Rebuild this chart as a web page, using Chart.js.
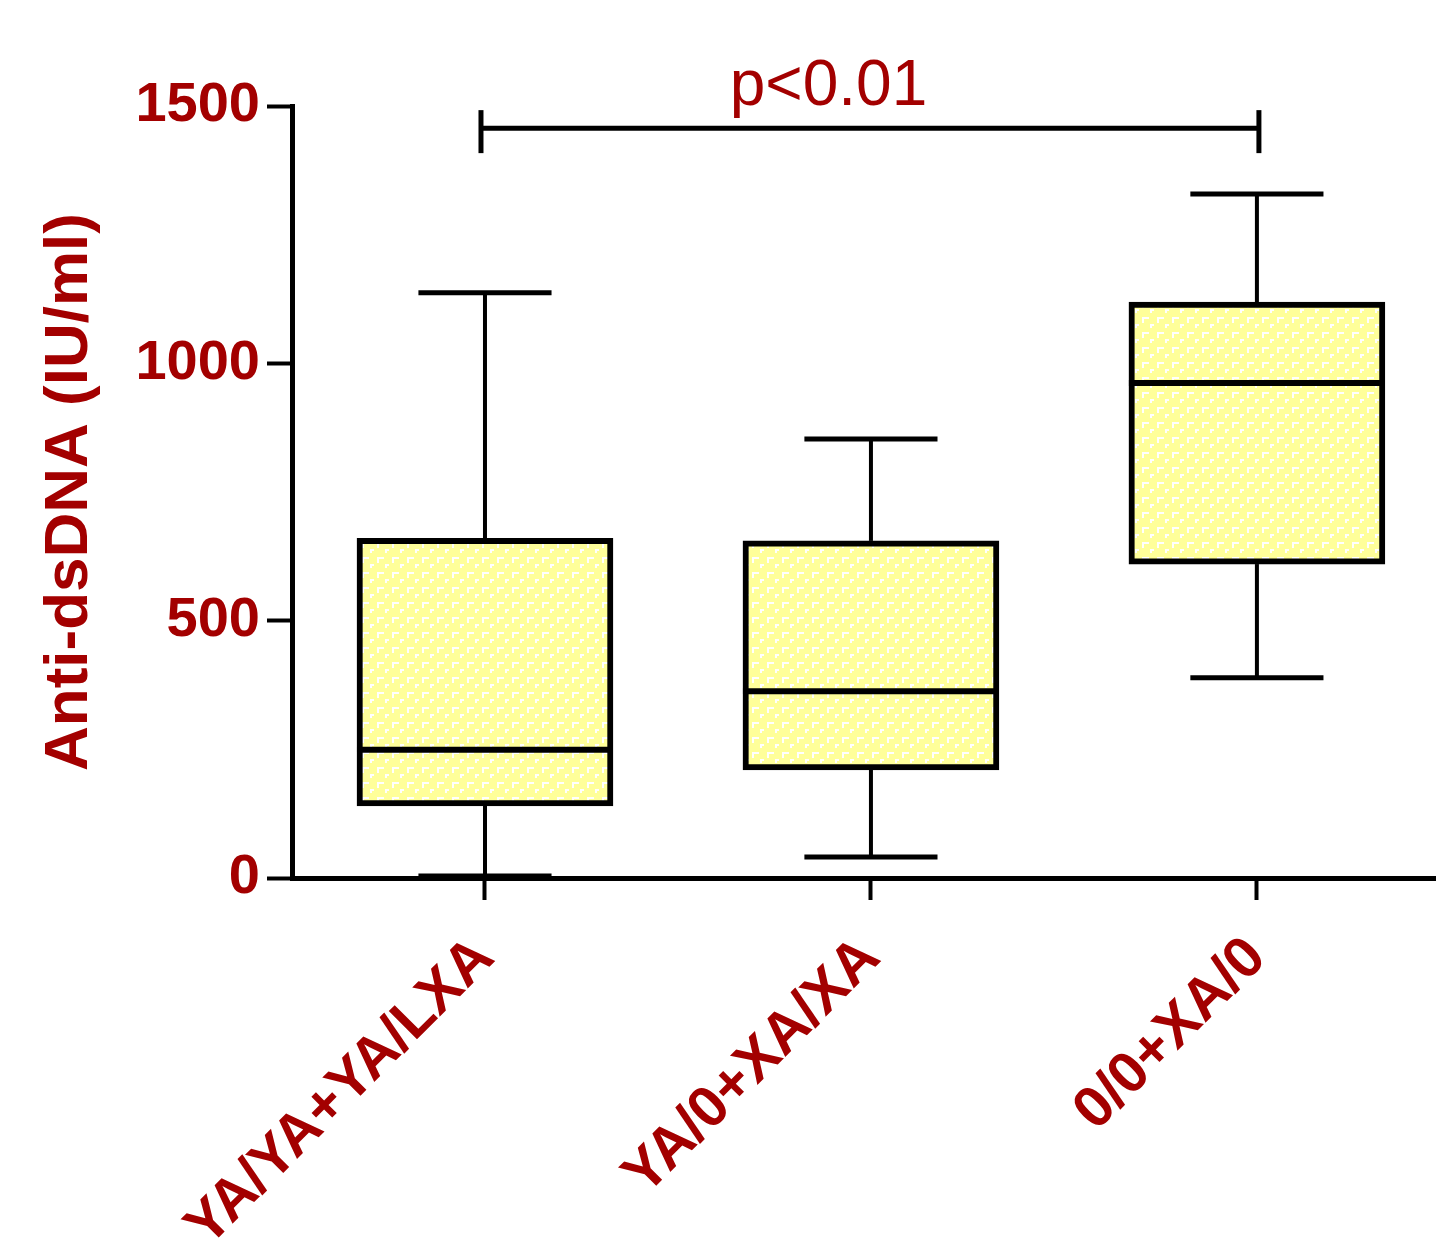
<!DOCTYPE html>
<html>
<head>
<meta charset="utf-8">
<script src="https://cdn.jsdelivr.net/npm/chart.js@4"></script>
<style>
  html, body { margin: 0; padding: 0; background: #fff; }
</style>
</head>
<body>
<canvas id="myChart" width="1436" height="1255"></canvas>
<script>
'use strict';

// box plot values
const categories = ['YA/YA+YA/LXA', 'YA/0+XA/XA', '0/0+XA/0'];
const whiskerLow = [4, 41, 389];
const q1 = [140, 210, 610];
const medians = [249, 363, 962];
const q3 = [660, 655, 1119];
const whiskerHigh = [1137, 853, 1329];
const yTicks = [0, 500, 1000, 1500];

// significance bracket
const pFrom = 0;
const pTo = 2;
const pLevel = 1457;
const pLabel = 'p<0.01';
const pLabelX = 0.89;

const darkRed = '#A30000';
const fontFamily = '"Liberation Sans", Arial, sans-serif';

function line(ctx, x1, y1, x2, y2) {
  ctx.beginPath();
  ctx.moveTo(x1, y1);
  ctx.lineTo(x2, y2);
  ctx.stroke();
}

const boxPlotLines = {
  id: 'boxPlotLines',
  afterDatasetsDraw(chart) {
    const ctx = chart.ctx;
    const xs = chart.scales.x;
    const ys = chart.scales.y;
    const bars = chart.getDatasetMeta(0).data;
    ctx.save();
    ctx.strokeStyle = '#000';
    ctx.lineCap = 'butt';
    for (let i = 0; i < categories.length; i++) {
      let x = xs.getPixelForValue(i);
      let half = bars[i].width / 2;
      let cap = half * 0.52;
      let yHi = ys.getPixelForValue(whiskerHigh[i]);
      let yLo = ys.getPixelForValue(whiskerLow[i]);
      ctx.lineWidth = 4;
      line(ctx, x, ys.getPixelForValue(q3[i]), x, yHi);
      line(ctx, x, ys.getPixelForValue(q1[i]), x, yLo);
      ctx.lineWidth = 5;
      line(ctx, x - cap, yHi, x + cap, yHi);
      line(ctx, x - cap, yLo, x + cap, yLo);
      let ym = ys.getPixelForValue(medians[i]);
      ctx.lineWidth = 6;
      line(ctx, x - half, ym, x + half, ym);
    }

    // bracket with p value
    let yb = ys.getPixelForValue(pLevel);
    let xa = xs.getPixelForValue(pFrom) - 4;
    let xb = xs.getPixelForValue(pTo) + 2;
    ctx.lineWidth = 5;
    line(ctx, xa, yb, xb, yb);
    line(ctx, xa, yb - 18, xa, yb + 25);
    line(ctx, xb, yb - 18, xb, yb + 25);
    ctx.fillStyle = darkRed;
    ctx.font = '64px ' + fontFamily;
    ctx.textAlign = 'center';
    ctx.textBaseline = 'alphabetic';
    ctx.fillText(pLabel, xs.getPixelForValue(pLabelX), yb - 23);
    ctx.restore();
  }
};

// pale yellow fill with little white marks
let tileCanvas = document.createElement('canvas');
tileCanvas.width = 15;
tileCanvas.height = 15;
let tc = tileCanvas.getContext('2d');
tc.fillStyle = '#FFFF9A';
tc.fillRect(0, 0, 15, 15);
tc.fillStyle = '#ffffff';
tc.fillRect(2, 2, 7, 2);
tc.fillRect(2, 2, 2, 6);
tc.fillRect(10, 9, 4, 2);
tc.fillRect(10, 9, 2, 4);
const boxFill = tc.createPattern(tileCanvas, 'repeat');

const data = {
  datasets: [{
    label: 'Anti-dsDNA',
    data: categories.map((c, i) => ({ x: i, y: [q1[i], q3[i]] })),
    backgroundColor: boxFill,
    borderColor: '#000',
    borderWidth: 6,
    borderSkipped: false,
    barThickness: 256
  }]
};

const config = {
  type: 'bar',
  data: data,
  options: {
    responsive: false,
    animation: false,
    devicePixelRatio: 1,
    layout: { padding: { top: 106, right: 0, left: 0, bottom: 0 } },
    plugins: {
      legend: { display: false },
      tooltip: { enabled: false }
    },
    scales: {
      x: {
        type: 'linear',
        min: -0.5,
        max: 2.464,
        offset: false,
        afterBuildTicks: (s) => { s.ticks = categories.map((c, i) => ({ value: i })); },
        afterFit: (s) => { s.height = 377; },
        border: { display: true, color: '#000', width: 5 },
        grid: { offset: false, drawOnChartArea: false, drawTicks: true, tickLength: 22, tickWidth: 4, tickColor: '#000' },
        ticks: {
          autoSkip: false,
          minRotation: 45,
          maxRotation: 45,
          padding: 24,
          color: darkRed,
          font: { family: fontFamily, size: 58, weight: 'bold' },
          callback: (v) => categories[v]
        }
      },
      y: {
        min: 0,
        max: 1500,
        afterBuildTicks: (s) => { s.ticks = yTicks.map(v => ({ value: v })); },
        afterFit: (s) => { s.width = 292; },
        border: { display: true, color: '#000', width: 5 },
        grid: { drawOnChartArea: false, drawTicks: true, tickLength: 25, tickWidth: 4, tickColor: '#000' },
        ticks: {
          padding: 7,
          color: darkRed,
          font: { family: fontFamily, size: 56, weight: 'bold' },
          callback: (v) => String(v)
        },
        title: {
          display: true,
          text: 'Anti-dsDNA (IU/ml)',
          color: darkRed,
          font: { family: fontFamily, size: 62, weight: 'bold' },
          padding: { top: 33, bottom: 0 }
        }
      }
    }
  },
  plugins: [boxPlotLines]
};

const myChart = new Chart(document.getElementById('myChart'), config);
</script>
</body>
</html>
